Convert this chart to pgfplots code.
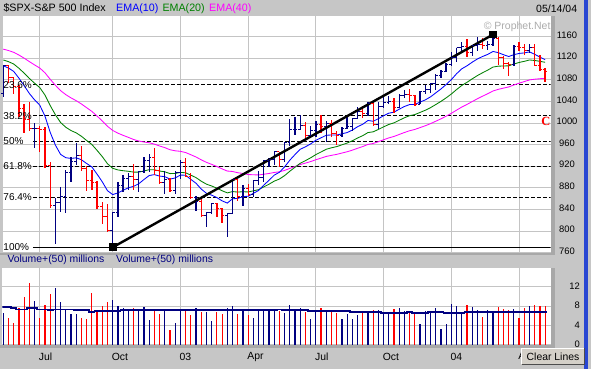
\documentclass[border=0pt]{standalone}
\usepackage{pgfplots}
\usepackage{pgfplotstable}
\pgfplotsset{compat=1.18}
\usepackage{fontspec}
\setmainfont{Liberation Sans}
\newfontfamily\serifC{Liberation Serif}

\definecolor{bg}{RGB}{198,198,198}
\definecolor{navyb}{RGB}{0,0,128}
\definecolor{redb}{RGB}{255,0,0}
\definecolor{emab}{RGB}{0,0,255}
\definecolor{emag}{RGB}{0,128,0}
\definecolor{emam}{RGB}{255,0,255}
\definecolor{gridc}{RGB}{196,196,196}
\definecolor{wm}{RGB}{172,172,172}
\definecolor{stripc}{RGB}{168,168,168}
\definecolor{btn}{RGB}{212,208,200}
\definecolor{bord}{RGB}{40,70,210}

\pgfdeclareplotmark{otick}{\pgfpathmoveto{\pgfqpoint{0pt}{0pt}}\pgfpathlineto{\pgfqpoint{-2.3pt}{0pt}}\pgfusepathqstroke}
\pgfdeclareplotmark{ctick}{\pgfpathmoveto{\pgfqpoint{0pt}{0pt}}\pgfpathlineto{\pgfqpoint{2.3pt}{0pt}}\pgfusepathqstroke}

\pgfplotstableread{
x o h l c
0 1055 1107 1049 1106.6
6 989.1 1001 953 989.8
10 847.8 862 776 852.8
11 852.8 882 836 864.2
12 864.2 913 833 908.6
13 908.6 937 890 928.8
14 928.8 964 922 940.9
21 800.6 836 768.6 835.3
22 835.3 890 827 884.4
23 884.4 904 873 897.7
24 897.7 907 876 901.0
26 894.7 911 872 909.8
27 909.8 937 907 930.6
28 930.6 943 910 936.3
31 889.5 911 869 895.8
33 875.4 912 869 908.6
34 908.6 932 896 927.6
37 861.4 865 838 855.7
39 829.7 835 807 834.9
40 834.9 852 831 851.2
43 828.9 834 789 833.3
44 833.3 896 833 895.8
46 863.5 885 847 878.9
48 868.3 894 863 893.6
49 893.6 912 886 898.8
50 898.8 931 890 930.1
51 930.1 936 918 933.4
52 933.4 948 922 946.7
54 933.2 965 928 963.6
55 963.6 1008 958 987.8
56 987.8 1012 978 988.6
57 988.6 1015 988 995.7
59 976.2 994 973 985.7
60 985.7 1003 974 998.1
62 993.3 1003 965 998.7
65 977.6 992 974 990.7
66 990.7 1011 990 993.1
67 993.1 1008 985 1008.0
68 1008.0 1030 1008 1021.4
70 1018.6 1040 1013 1036.3
72 996.9 1040 990 1029.9
73 1029.9 1048 1028 1038.7
74 1038.7 1051 1036 1039.3
76 1028.9 1053 1028 1050.7
77 1050.7 1061 1046 1053.2
80 1035.3 1060 1035 1058.2
81 1058.2 1071 1053 1061.5
82 1061.5 1075 1056 1074.1
83 1074.1 1091 1061 1088.7
84 1088.7 1098 1084 1095.9
85 1095.9 1112 1094 1108.5
86 1108.5 1131 1105 1121.9
87 1121.9 1140 1113 1139.8
88 1139.8 1150 1134 1141.6
90 1131.1 1143 1124 1142.8
91 1142.8 1159 1134 1145.8
93 1144.1 1152 1136 1144.9
94 1144.9 1163 1142 1156.9
98 1108.1 1144 1106 1141.8
101 1134.6 1146 1129 1140.6
}\upbars

\pgfplotstableread{
x o h l c
1 1106.6 1107 1075 1083.8
2 1083.8 1085 1054 1067.1
3 1067.1 1070 1012 1027.5
4 1027.5 1036 981 1007.3
5 1007.3 1040 985 989.1
7 989.8 994 947 989.0
8 989.0 993 917 921.4
9 921.4 928 843 847.8
15 940.9 957 912 916.1
16 916.1 920 875 893.9
17 893.9 914 876 889.8
18 889.8 893 840 845.4
19 845.4 853 813 827.4
20 827.4 850 798 800.6
25 901.0 925 877 894.7
29 936.3 954 903 912.2
30 912.2 918 889 889.5
32 895.8 899 873 875.4
35 927.6 935 900 901.8
36 901.8 907 861 861.4
38 855.7 864 827 829.7
41 851.2 852 827 841.2
42 841.2 842 815 828.9
45 895.8 896 855 863.5
47 878.9 887 865 868.3
53 946.7 947 919 933.2
58 995.7 1002 969 976.2
61 998.1 1015 981 993.3
63 998.7 1005 975 980.2
64 980.2 986 960 977.6
69 1021.4 1032 1009 1018.6
71 1036.3 1040 997 996.9
75 1039.3 1047 1018 1028.9
78 1053.2 1063 1040 1050.4
79 1050.4 1052 1031 1035.3
89 1141.6 1155 1122 1131.1
92 1145.8 1158 1138 1144.1
95 1156.9 1159 1107 1120.6
96 1120.6 1125 1101 1109.8
97 1109.8 1114 1088 1108.1
99 1141.8 1150 1134 1139.3
100 1139.3 1147 1126 1134.6
102 1140.6 1146 1107 1107.3
103 1107.3 1127 1098 1098.7
104 1098.7 1102 1076 1095.7
}\downbars

\pgfplotstableread{
x v
0 6.6
6 9.0
10 11.7
11 8.8
12 7.3
13 6.3
14 6.3
21 9.2
22 7.9
23 7.6
24 7.0
26 6.9
27 7.8
28 5.1
31 7.0
33 4.4
34 7.3
37 7.6
39 6.75
40 4.9
43 7.6
44 8.0
46 7.0
48 5.5
49 7.0
50 7.4
51 7.1
52 7.4
54 6.5
55 8.2
56 7.0
57 7.6
59 5.3
60 7.2
62 6.9
65 5.3
66 6.3
67 5.3
68 6.1
70 6.75
72 7.2
73 6.4
74 6.4
76 7.6
77 6.95
80 4.3
81 6.95
82 6.95
83 7.6
84 3.2
85 4.3
86 8.4
87 8.0
88 6.75
90 7.8
91 7.2
93 7.2
94 6.95
98 7.4
101 8.0
}\volup

\pgfplotstableread{
x v
1 5.5
2 4.5
3 7.6
4 9.9
5 12.8
7 5.5
8 8.1
9 10.5
15 5.5
16 5.3
17 10.7
18 7.2
19 7.9
20 8.8
25 7.6
29 6.95
30 6.3
32 3.0
35 6.95
36 6.1
38 6.75
41 6.75
42 6.3
45 6.3
47 6.1
53 6.95
58 6.75
61 7.6
63 7.2
64 6.5
69 6.5
71 7.2
75 7.4
78 6.5
79 6.3
89 8.2
92 5.7
95 7.8
96 7.4
97 7.2
99 5.5
100 7.6
102 8.2
103 8.0
104 8.0
}\voldown

\pgfplotsset{
  chartbase/.style={
    anchor=south west, scale only axis, width=548.2pt,
    xmin=-0.15, xmax=105.07,
    axis line style={draw=none},
    axis background/.style={fill=white},
    xtick={7,21,34,47,60,73,86,99},
    major tick length=0pt,
    grid=major, grid style={gridc, line width=0.9pt},
    /pgf/number format/assume math mode=true,
    /pgf/number format/1000 sep={},
    yticklabel pos=right,
    clip=true,
  }
}

\begin{document}
\begin{tikzpicture}
\useasboundingbox (0pt,0pt) rectangle (591pt,369pt);
\fill[bg] (0pt,0pt) rectangle (591pt,369pt);
% panel edge strips
\fill[stripc] (550.7pt,114pt) rectangle (555pt,353.3pt);
\fill[stripc] (0pt,113.8pt) rectangle (555pt,116.3pt);
\fill[stripc] (550.7pt,21pt) rectangle (555pt,101pt);
\fill[stripc] (0pt,20.5pt) rectangle (555pt,23.5pt);
\fill[bord] (584.2pt,0pt) rectangle (587.6pt,369pt);

% header texts
\node[anchor=west, inner sep=0pt, font=\fontsize{10.7}{12}\selectfont] at (3.3pt,360.7pt) {\$SPX-S\&P 500 Index};
\node[anchor=west, inner sep=0pt, text=emab, font=\fontsize{10.7}{12}\selectfont] at (116pt,360.7pt) {EMA(10)};
\node[anchor=west, inner sep=0pt, text=emag, font=\fontsize{10.7}{12}\selectfont] at (162.3pt,360.7pt) {EMA(20)};
\node[anchor=west, inner sep=0pt, text=emam, font=\fontsize{10.7}{12}\selectfont] at (209pt,360.7pt) {EMA(40)};
\node[anchor=east, inner sep=0pt, font=\fontsize{10.5}{12}\selectfont] at (577.3pt,360.7pt) {05/14/04};
\node[anchor=west, inner sep=0pt, text=navyb, font=\fontsize{10.4}{12}\selectfont] at (7.3pt,109pt) {Volume+(50) millions};
\node[anchor=west, inner sep=0pt, text=navyb, font=\fontsize{10.4}{12}\selectfont] at (116pt,109pt) {Volume+(50) millions};

% ---------------- price panel
\begin{axis}[chartbase,
  at={(2.5pt,116.3pt)}, height=237pt,
  ymin=760, ymax=1198.9,
  xticklabels={},
  ytick={760,800,840,880,920,960,1000,1040,1080,1120,1160},
  yticklabel style={anchor=center, inner sep=0pt, xshift=16.3pt, yshift=1.6pt, font=\fontsize{9.4}{10}\selectfont},
]
% Fibonacci levels
\addplot[black, line width=0.8pt, dash pattern=on 4pt off 2pt] coordinates {(5.7,1071) (106,1071)};
\addplot[black, line width=0.8pt, dash pattern=on 4pt off 2pt] coordinates {(5.7,1013.5) (106,1013.5)};
\addplot[black, line width=0.8pt, dash pattern=on 4pt off 2pt] coordinates {(5.7,967) (106,967)};
\addplot[black, line width=0.8pt, dash pattern=on 4pt off 2pt] coordinates {(5.7,920.5) (106,920.5)};
\addplot[black, line width=0.8pt, dash pattern=on 4pt off 2pt] coordinates {(5.7,863) (106,863)};
\addplot[black, line width=1pt] coordinates {(5.7,770) (106,770)};

% EMA(40)
\addplot[emam, line width=0.85pt] coordinates {
(0,1137) (1,1134.4) (2,1131.1) (3,1126.1) (4,1120.3) (5,1113.9) (6,1107.8) (7,1102.0) (8,1093.2) (9,1081.2)
(10,1070.1) (11,1060.1) (12,1052.7) (13,1046.7) (14,1041.5) (15,1035.4) (16,1028.5) (17,1021.7) (18,1013.1) (19,1004.0)
(20,994.1) (21,986.4) (22,981.4) (23,977.3) (24,973.6) (25,969.7) (26,966.8) (27,965.0) (28,963.6) (29,961.1)
(30,957.6) (31,954.6) (32,950.7) (33,948.7) (34,947.7) (35,945.5) (36,941.4) (37,937.2) (38,932.0) (39,927.3)
(40,923.6) (41,919.6) (42,915.2) (43,911.2) (44,910.4) (45,908.1) (46,906.7) (47,904.8) (48,904.3) (49,904.0)
(50,905.3) (51,906.7) (52,908.6) (53,909.8) (54,912.4) (55,916.1) (56,919.6) (57,923.3) (58,925.9) (59,928.8)
(60,932.2) (61,935.2) (62,938.3) (63,940.3) (64,942.1) (65,944.5) (66,946.9) (67,949.9) (68,953.4) (69,956.6)
(70,960.5) (71,962.3) (72,965.6) (73,969.2) (74,972.6) (75,975.3) (76,979.0) (77,982.6) (78,985.9) (79,988.3)
(80,991.7) (81,995.1) (82,999.0) (83,1003.4) (84,1007.9) (85,1012.8) (86,1018.1) (87,1024.0) (88,1029.7) (89,1034.6)
(90,1039.9) (91,1045.1) (92,1049.9) (93,1054.5) (94,1059.5) (95,1062.5) (96,1064.8) (97,1066.9) (98,1070.6) (99,1073.9)
(100,1076.9) (101,1080.0) (102,1081.3) (103,1082.2) (104,1082.9)};
% EMA(20)
\addplot[emag, line width=0.85pt] coordinates {
(0,1117) (1,1113.8) (2,1109.4) (3,1101.6) (4,1092.6) (5,1082.7) (6,1073.9) (7,1065.8) (8,1052.0) (9,1032.6)
(10,1015.5) (11,1001.1) (12,992.3) (13,986.2) (14,981.9) (15,975.6) (16,967.8) (17,960.4) (18,949.5) (19,937.9)
(20,924.8) (21,916.3) (22,913.3) (23,911.8) (24,910.8) (25,909.3) (26,909.3) (27,911.3) (28,913.7) (29,913.6)
(30,911.3) (31,909.8) (32,906.5) (33,906.7) (34,908.7) (35,908.0) (36,903.6) (37,899.0) (38,892.4) (39,886.9)
(40,883.5) (41,879.5) (42,874.7) (43,870.8) (44,873.2) (45,872.3) (46,872.9) (47,872.5) (48,874.5) (49,876.8)
(50,881.9) (51,886.8) (52,892.5) (53,896.4) (54,902.8) (55,910.9) (56,918.3) (57,925.7) (58,930.5) (59,935.8)
(60,941.7) (61,946.6) (62,951.6) (63,954.3) (64,956.5) (65,959.8) (66,963.0) (67,967.3) (68,972.4) (69,976.8)
(70,982.5) (71,983.9) (72,988.3) (73,993.1) (74,997.5) (75,1000.5) (76,1005.3) (77,1009.9) (78,1013.8) (79,1015.8)
(80,1019.8) (81,1023.8) (82,1028.6) (83,1034.3) (84,1040.2) (85,1046.7) (86,1053.9) (87,1062.1) (88,1069.7) (89,1075.5)
(90,1081.9) (91,1088.0) (92,1093.3) (93,1098.2) (94,1103.8) (95,1105.4) (96,1105.8) (97,1106.0) (98,1109.4) (99,1112.3)
(100,1114.4) (101,1116.9) (102,1116.0) (103,1114.4) (104,1112.6)};
% EMA(10)
\addplot[emab, line width=0.85pt] coordinates {
(0,1106) (1,1102.0) (2,1095.7) (3,1083.3) (4,1069.5) (5,1054.9) (6,1043.1) (7,1033.3) (8,1013.0) (9,983.0)
(10,959.3) (11,942.0) (12,935.9) (13,934.6) (14,935.7) (15,932.1) (16,925.2) (17,918.8) (18,905.5) (19,891.3)
(20,874.8) (21,867.6) (22,870.7) (23,875.6) (24,880.2) (25,882.8) (26,887.7) (27,895.5) (28,902.9) (29,904.6)
(30,901.9) (31,900.8) (32,896.2) (33,898.5) (34,903.8) (35,903.4) (36,895.8) (37,888.5) (38,877.8) (39,870.0)
(40,866.6) (41,862.0) (42,856.0) (43,851.9) (44,859.9) (45,860.5) (46,863.8) (47,864.6) (48,869.9) (49,875.2)
(50,885.2) (51,894.0) (52,903.6) (53,909.0) (54,918.9) (55,931.4) (56,941.8) (57,951.6) (58,956.1) (59,961.5)
(60,968.2) (61,972.8) (62,977.5) (63,978.0) (64,977.9) (65,980.2) (66,982.5) (67,987.1) (68,993.3) (69,997.9)
(70,1004.9) (71,1003.4) (72,1008.2) (73,1013.7) (74,1018.4) (75,1020.3) (76,1025.8) (77,1030.8) (78,1034.4) (79,1034.6)
(80,1038.9) (81,1043.0) (82,1048.6) (83,1055.9) (84,1063.2) (85,1071.4) (86,1080.6) (87,1091.4) (88,1100.5) (89,1106.1)
(90,1112.8) (91,1118.8) (92,1123.4) (93,1127.3) (94,1132.7) (95,1130.5) (96,1126.7) (97,1123.3) (98,1126.7) (99,1129.0)
(100,1130.0) (101,1131.9) (102,1127.4) (103,1122.2) (104,1117.4)};

% OHLC bars
\addplot[navyb, only marks, mark=ctick, mark options={line width=1pt},
  error bars/.cd, y dir=both, y explicit, error mark=none,
  error bar style={line width=1.3pt, navyb}]
  table[x=x, y=c, y error plus expr=\thisrow{h}-\thisrow{c}, y error minus expr=\thisrow{c}-\thisrow{l}] {\upbars};
\addplot[navyb, only marks, mark=otick, mark options={line width=1pt}] table[x=x, y=o] {\upbars};
\addplot[redb, only marks, mark=ctick, mark options={line width=1pt},
  error bars/.cd, y dir=both, y explicit, error mark=none,
  error bar style={line width=1.3pt, redb}]
  table[x=x, y=c, y error plus expr=\thisrow{h}-\thisrow{c}, y error minus expr=\thisrow{c}-\thisrow{l}] {\downbars};
\addplot[redb, only marks, mark=otick, mark options={line width=1pt}] table[x=x, y=o] {\downbars};

% trend line
\addplot[black, line width=2.4pt, mark=square*, mark size=3.4pt, mark options={solid, line width=0pt}] coordinates {(21,770) (94,1164)};

% level labels
\node[anchor=west, inner sep=0pt, font=\fontsize{10}{11}\selectfont] at (axis cs:-0.0,1071) {23.6\%};
\node[anchor=west, inner sep=0pt, font=\fontsize{10}{11}\selectfont] at (axis cs:-0.0,1013.5) {38.2\%};
\node[anchor=west, inner sep=0pt, font=\fontsize{10}{11}\selectfont] at (axis cs:-0.0,967) {50\%};
\node[anchor=west, inner sep=0pt, font=\fontsize{10}{11}\selectfont] at (axis cs:-0.0,920.5) {61.8\%};
\node[anchor=west, inner sep=0pt, font=\fontsize{10}{11}\selectfont] at (axis cs:-0.0,863) {76.4\%};
\node[anchor=west, inner sep=0pt, font=\fontsize{10}{11}\selectfont] at (axis cs:-0.0,770) {100\%};
\node[anchor=east, inner sep=0pt, text=redb, font=\serifC\bfseries\fontsize{12.5}{13}\selectfont] at (axis cs:105.07,1004) {C};
\node[anchor=east, inner sep=0pt, text=wm, font=\fontsize{10.5}{12}\selectfont] at (axis cs:105.07,1178) {\textcopyright\ Prophet.Net};
\end{axis}

% ---------------- volume panel
\begin{axis}[chartbase,
  at={(2.5pt,23.5pt)}, height=77.5pt,
  ymin=-0.19, ymax=15.86,
  ytick={0,4,8,12},
  xticklabels={Jul,Oct,03,Apr,Jul,Oct,04,Apr},
  xticklabel style={anchor=west, inner sep=0pt, yshift=-11.2pt, xshift=-1pt, font=\fontsize{10.4}{12}\selectfont},
  yticklabel style={anchor=east, inner sep=0pt, xshift=29.3pt, yshift=0.5pt, font=\fontsize{9.4}{10}\selectfont},
]
\addplot[ycomb, navyb, line width=1.2pt] table[x=x, y=v] {\volup};
\addplot[ycomb, redb, line width=1.2pt] table[x=x, y=v] {\voldown};
\addplot[const plot mark left, navyb, line width=1.7pt] coordinates {
(-0.15,7.78) (1.5,7.57) (2.5,7.29) (4.5,7.57) (6.5,7.29) (8.5,7.1) (9.5,7.29) (13.5,7.1) (16.5,6.75) (17.5,6.96)
(22.5,7.1) (52.5,7.29) (53.5,7.1) (58.5,6.89) (66.5,6.68) (72.5,6.48) (77.5,6.68) (78.5,6.48) (81.5,6.68) (84.5,6.48)
(88.5,6.68) (104.3,6.68)};
\end{axis}

% Clear Lines button
\fill[btn] (521pt,4pt) rectangle (585pt,21pt);
\draw[white, line width=1pt] (521.5pt,4.5pt) -- (521.5pt,20.5pt) -- (584.5pt,20.5pt);
\draw[black!70, line width=1pt] (521.5pt,4.5pt) -- (584.5pt,4.5pt) -- (584.5pt,20.5pt);
\node[inner sep=0pt, font=\fontsize{10.4}{12}\selectfont] at (553pt,12.3pt) {Clear Lines};
\end{tikzpicture}
\end{document}
